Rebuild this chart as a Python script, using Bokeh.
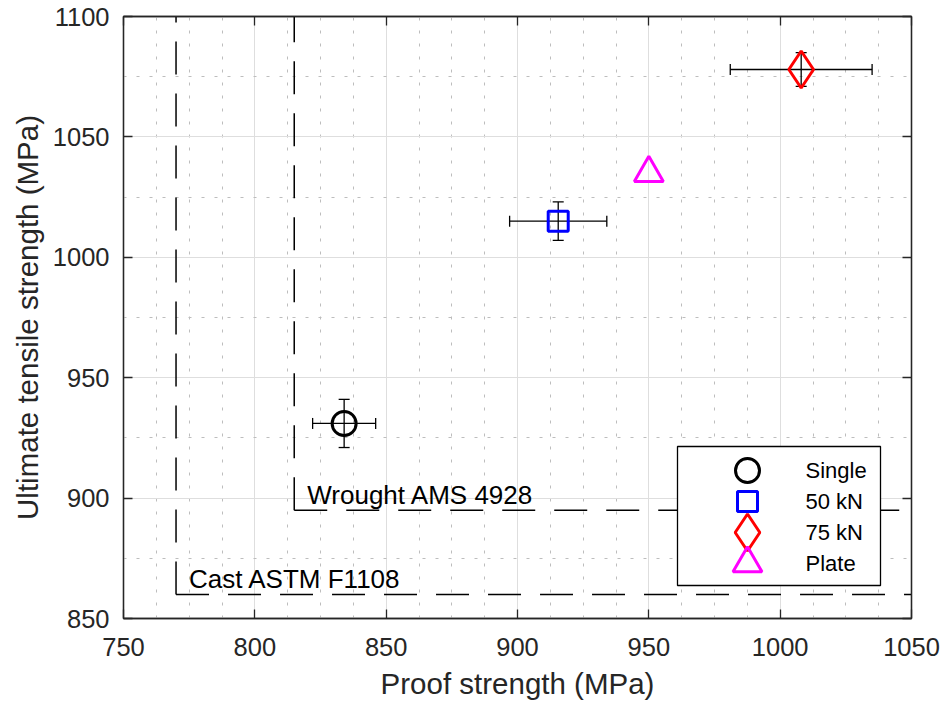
from bokeh.plotting import figure
from bokeh.models import (ColumnDataSource, Whisker, TeeHead, LinearAxis,
                          SingleIntervalTicker, Range1d)
from bokeh.core.properties import value
from bokeh.embed import file_html
from bokeh.resources import INLINE

# ---------------- data ----------------
groups = ["Single", "50 kN", "75 kN", "Plate"]
proof = [834, 915.5, 1008, 950]          # MPa
uts = [931, 1015, 1078, 1035]            # MPa
proof_err = [12, 18.5, 27, 0]
uts_err = [10, 8, 7, 0]

spec_names = ["Cast ASTM F1108", "Wrought AMS 4928"]
spec_proof = [770, 815]
spec_uts = [860, 895]

x_limits = [750, 1050]
y_limits = [850, 1100]
tick_step = 50

# ---------------- styles / layout ----------------
MARKERS = ["circle", "square", "diamond", "triangle"]
COLORS = ["#000000", "#0000ff", "#ff0000", "#ff00ff"]
SIZES = [24, 20, 37, 29]
FONT = "Liberation Sans"
TXT = "#262626"

W, H = 942, 703
BL, BR, BT, BB = 123, 31, 16, 85
FW, FH = W - BL - BR, H - BT - BB      # frame size in px

p = figure(width=W, height=H, output_backend="svg", toolbar_location=None,
           x_range=Range1d(*x_limits), y_range=Range1d(*y_limits),
           min_border_left=BL, min_border_right=BR, min_border_top=BT, min_border_bottom=BB)
p.extra_x_ranges = {"px": Range1d(0, FW)}
p.extra_y_ranges = {"px": Range1d(0, FH)}
p.background_fill_color = "white"
p.border_fill_color = "white"
p.outline_line_color = TXT
p.outline_line_width = 1.3

xt = SingleIntervalTicker(interval=tick_step, num_minor_ticks=4)
yt = SingleIntervalTicker(interval=tick_step, num_minor_ticks=2)

p.add_layout(LinearAxis(), "above")
p.add_layout(LinearAxis(), "right")

for ax in p.xaxis:
    ax.ticker = xt
for ax in p.yaxis:
    ax.ticker = yt

for ax in list(p.xaxis) + list(p.yaxis):
    ax.major_tick_in = 9
    ax.major_tick_out = 0
    ax.minor_tick_in = 0
    ax.minor_tick_out = 0
    ax.axis_line_color = TXT
    ax.axis_line_width = 1.3
    ax.major_tick_line_color = TXT
    ax.major_tick_line_width = 1.3
    ax.major_label_text_font = FONT
    ax.major_label_text_font_size = "25.5px"
    ax.major_label_text_color = TXT

# top / right axes: ticks only, labels not painted
for ax in (p.above[0], p.right[0]):
    ax.major_label_text_font_size = "1px"
    ax.major_label_text_color = None
    ax.major_label_standoff = 0

bx = p.below[0]
ly = p.left[0]
bx.axis_label = "Proof strength (MPa)"
ly.axis_label = "Ultimate tensile strength (MPa)"
for ax in (bx, ly):
    ax.axis_label_text_font = FONT
    ax.axis_label_text_font_size = "29.5px"
    ax.axis_label_text_font_style = "normal"
    ax.axis_label_text_color = TXT
bx.major_label_standoff = 19
bx.axis_label_standoff = 8
ly.major_label_standoff = 14
ly.axis_label_standoff = 6

# grids
for g in (p.xgrid[0], p.ygrid[0]):
    g.grid_line_color = "#dedede"
    g.grid_line_width = 1
    g.minor_grid_line_color = "#bdbdbd"
    g.minor_grid_line_width = 1
    g.minor_grid_line_dash = "3 10"
p.xgrid[0].ticker = xt
p.ygrid[0].ticker = yt

# spec threshold lines (dashed), each starting at the corner
y_top = [y_limits[1]] * len(spec_proof)
x_right = [x_limits[1]] * len(spec_proof)
p.segment(x0=spec_proof, y0=spec_uts, x1=spec_proof, y1=y_top,
          line_color="black", line_width=1.5, line_dash="33 19")
p.segment(x0=spec_proof, y0=spec_uts, x1=x_right, y1=spec_uts,
          line_color="black", line_width=1.5, line_dash="33 19")
p.text(x=spec_proof, y=spec_uts, text=spec_names, x_offset=13, y_offset=0,
       text_baseline="bottom", text_align="left", text_font=value(FONT),
       text_font_size="26px", text_color="black")

# error bars
idx = [i for i in range(len(groups)) if proof_err[i] > 0 or uts_err[i] > 0]
eb = ColumnDataSource(dict(
    x=[proof[i] for i in idx], y=[uts[i] for i in idx],
    xl=[proof[i] - proof_err[i] for i in idx], xu=[proof[i] + proof_err[i] for i in idx],
    yl=[uts[i] - uts_err[i] for i in idx], yu=[uts[i] + uts_err[i] for i in idx]))


def head():
    return TeeHead(size=11, line_color="black", line_width=1.3)


p.add_layout(Whisker(source=eb, base="y", lower="xl", upper="xu", dimension="width",
                     line_color="black", line_width=1.3,
                     lower_head=head(), upper_head=head()))
p.add_layout(Whisker(source=eb, base="x", lower="yl", upper="yu", dimension="height",
                     line_color="black", line_width=1.3,
                     lower_head=head(), upper_head=head()))

# data markers
for i, name in enumerate(groups):
    p.scatter(x=[proof[i]], y=[uts[i]], marker=MARKERS[i], size=SIZES[i],
              fill_color=None, line_color=COLORS[i], line_width=3)

# ---------------- legend (drawn in frame-pixel coordinates) ----------------
LEG_L, LEG_W, LEG_B, LEG_H = 554, 203, 33, 139
ROW0, PITCH, MDX, TDX = 24, 31, 70, 128
p.quad(left=[LEG_L], right=[LEG_L + LEG_W], bottom=[LEG_B], top=[LEG_B + LEG_H],
       x_range_name="px", y_range_name="px",
       fill_color="white", line_color="black", line_width=1.3)
for i, name in enumerate(groups):
    ry = LEG_B + LEG_H - ROW0 - i * PITCH
    p.scatter(x=[LEG_L + MDX], y=[ry], marker=MARKERS[i], size=SIZES[i],
              fill_color=None, line_color=COLORS[i], line_width=3,
              x_range_name="px", y_range_name="px")
    p.text(x=[LEG_L + TDX], y=[ry], text=[name], text_baseline="middle",
           text_align="left", text_font=value(FONT), text_font_size="22px",
           text_color="black", x_range_name="px", y_range_name="px")

open("out.html", "w").write(file_html(p, INLINE))
